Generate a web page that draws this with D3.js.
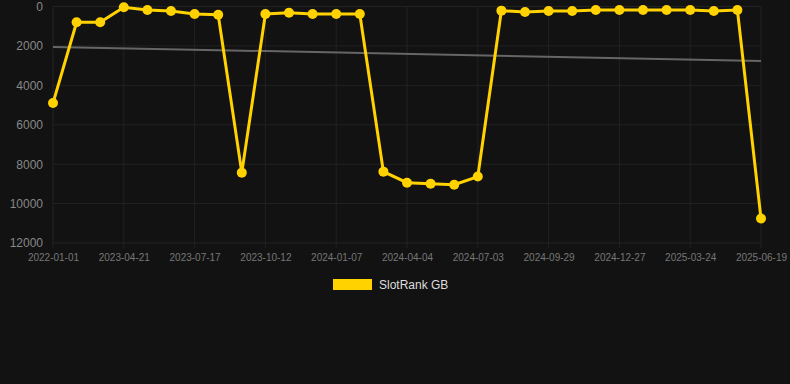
<!DOCTYPE html>
<html>
<head>
<meta charset="utf-8">
<script src="https://cdn.jsdelivr.net/npm/d3@7"></script>
<style>
	html, body { margin: 0; padding: 0; background: #121212; }
	svg { display: block; font-family: "Liberation Sans", Arial, sans-serif; }
</style>
</head>
<body>
<div id="chart"></div>
<script>
// dates of each point (x categories), label shown every 3rd
var dates = ['2022-01-01', '2023-02-21', '2023-03-22', '2023-04-21', '2023-05-20', '2023-06-18',
	'2023-07-17', '2023-08-15', '2023-09-13', '2023-10-12', '2023-11-10', '2023-12-09',
	'2024-01-07', '2024-02-05', '2024-03-06', '2024-04-04', '2024-05-03', '2024-06-03',
	'2024-07-03', '2024-08-01', '2024-08-30', '2024-09-29', '2024-10-28', '2024-11-27',
	'2024-12-27', '2025-01-25', '2025-02-23', '2025-03-24', '2025-04-22', '2025-05-21',
	'2025-06-19'];
var rankGB = [4900, 800, 800, 40, 180, 230, 380, 420, 8430, 380, 315, 380, 380, 380,
	8380, 8940, 8990, 9040, 8630, 210, 280, 230, 230, 180, 180, 180, 180, 180, 230, 180, 10760];
var trendEnds = [2050, 2760];
var yTicks = [0, 2000, 4000, 6000, 8000, 10000, 12000];
var seriesName = 'SlotRank GB';

var width = 790, height = 384;
var margin = { left: 53, right: 29, top: 6.5, bottom: 141 };
var yellow = '#ffd200';

var svg = d3.select('#chart').append('svg')
	.attr('width', width)
	.attr('height', height);

var x = d3.scalePoint().domain(dates).range([margin.left, width - margin.right]);
var y = d3.scaleLinear().domain([0, 12000]).range([margin.top, height - margin.bottom]);

// grid
let labelDates = dates.filter(function (d, i) { return i % 3 == 0; });
svg.append('g').selectAll('line').data(yTicks).enter().append('line')
	.attr('x1', margin.left).attr('x2', width - margin.right)
	.attr('y1', function (d) { return y(d); }).attr('y2', function (d) { return y(d); })
	.attr('stroke', '#222').attr('stroke-width', 1);
svg.append('g').selectAll('line').data(labelDates).enter().append('line')
	.attr('x1', function (d) { return x(d); }).attr('x2', function (d) { return x(d); })
	.attr('y1', margin.top).attr('y2', y(12000) + 5)
	.attr('stroke', '#222').attr('stroke-width', 1);

// axes
let yAxis = svg.append('g')
	.attr('transform', 'translate(' + (margin.left - 10) + ',0)')
	.call(d3.axisLeft(y).tickValues(yTicks).tickFormat(d3.format('d')).tickSize(0).tickPadding(0));
yAxis.select('.domain').remove();
yAxis.selectAll('text').attr('fill', '#888').style('font-size', '12px');

let xAxis = svg.append('g')
	.attr('transform', 'translate(0,' + y(12000) + ')')
	.call(d3.axisBottom(x).tickValues(labelDates).tickSize(0).tickPadding(11));
xAxis.select('.domain').remove();
xAxis.selectAll('text').attr('fill', '#777').style('font-size', '10px');

// trend line
svg.append('line')
	.attr('x1', x(dates[0])).attr('x2', x(dates[dates.length - 1]))
	.attr('y1', y(trendEnds[0])).attr('y2', y(trendEnds[1]))
	.attr('stroke', '#666').attr('stroke-width', 2);

// series
let line = d3.line()
	.x(function (d, i) { return x(dates[i]); })
	.y(function (d) { return y(d); });
svg.append('path')
	.datum(rankGB)
	.attr('d', line)
	.attr('fill', 'none')
	.attr('stroke', yellow)
	.attr('stroke-width', 3)
	.attr('stroke-linejoin', 'miter');
svg.append('g').selectAll('circle').data(rankGB).enter().append('circle')
	.attr('cx', function (d, i) { return x(dates[i]); })
	.attr('cy', function (d) { return y(d); })
	.attr('r', 5)
	.attr('fill', yellow);

// legend
let legend = svg.append('g').attr('transform', 'translate(333,279)');
legend.append('rect').attr('width', 39).attr('height', 11).attr('fill', yellow);
legend.append('text').attr('x', 46).attr('y', 10)
	.attr('fill', '#ddd').style('font-size', '12px').text(seriesName);
</script>
</body>
</html>
